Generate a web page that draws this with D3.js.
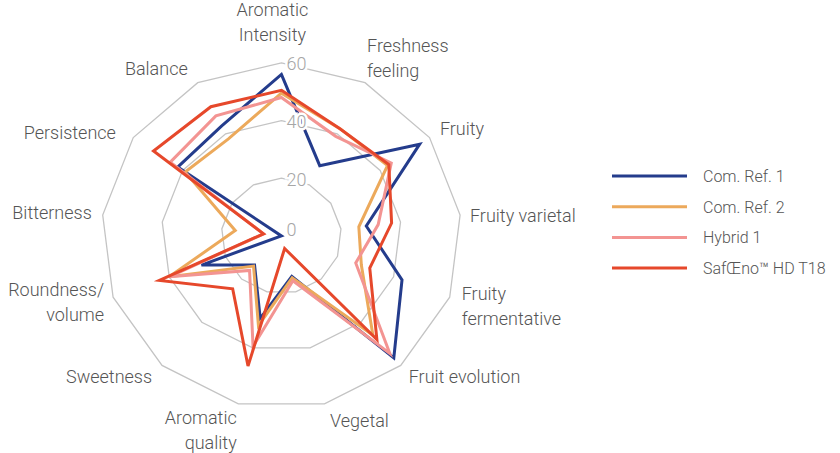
<!DOCTYPE html>
<html>
<head>
<meta charset="utf-8">
<script src="https://cdnjs.cloudflare.com/ajax/libs/d3/7.8.5/d3.min.js"></script>
<style>
  body { margin: 0; background: #fff; }
  svg { display: block; }
  .catLabel { font-family: Roboto, sans-serif; font-weight: 300; font-size: 18px; fill: #555; }
  .tickLabel { font-family: Roboto, sans-serif; font-weight: 300; font-size: 18px; fill: #a6a6a6;
               stroke: #fff; stroke-width: 5px; paint-order: stroke; }
  .legendLabel { font-family: Roboto, sans-serif; font-weight: 300; font-size: 16px; fill: #555; }
  .grid { fill: none; stroke: #c4c4c4; stroke-width: 1.3; }
  .series { fill: none; stroke-width: 3; stroke-linejoin: miter; }
</style>
</head>
<body>
<div id="chart"></div>
<script>
// Data
const categories = [
  "Aromatic|Intensity", "Freshness|feeling", "Fruity", "Fruity varietal",
  "Fruity|fermentative", "Fruit evolution", "Vegetal", "Aromatic|quality",
  "Sweetness", "Roundness/|volume", "Bitterness", "Persistence", "Balance"
];
const seriesNames = ["Com. Ref. 1", "Com. Ref. 2", "Hybrid 1", "SafŒno™ HD T18"];
const comRef1 = [56, 27.5, 56, 28.5, 43, 56.5, 14.5, 29.5, 13.5, 28.5, 0, 42, 43];
const comRef2 = [49.5, 42, 43, 26, 28.5, 46, 15, 32, 14, 40, 15.5, 39, 38];
const hybrid1 = [48, 39, 44.5, 32.5, 26.5, 54.5, 16, 39.5, 16, 40, 6, 45, 47];
const safoeno = [50.5, 42, 43.5, 37, 31.5, 48, 4.5, 46.5, 24.5, 43.5, 6, 51.8, 50.6];
const seriesColors = ["#243c8c", "#eca95b", "#f39492", "#e6482b"];
const gridTicks = [20, 40, 60];
const tickLabels = ["0", "20", "40", "60"];

// Layout
let width = 840, height = 453;
let cx = 281.4, cy = 235.9;
let rx = 180, ry = 173;      // plot is slightly wider than tall
let labelPad = 15;
let lineHeight = 25;
// small hand nudges for the category labels [dx, dy]
let labelNudge = [[0, 0], [-5, 0], [-2, 0], [-5, 3], [-2, 0], [-2, 0], [2, 3],
                  [2, 0], [0, 0], [5, -4], [4, 0], [-5, 4], [-3, 0]];

let svg = d3.select('#chart').append('svg')
  .attr('width', width)
  .attr('height', height);

let rScale = d3.scaleLinear().domain([0, 60]).range([0, 1]);
let aScale = d3.scaleLinear().domain([0, categories.length]).range([0, 2 * Math.PI]);

function px(v, i) { return cx + rx * rScale(v) * Math.sin(aScale(i)); }
function py(v, i) { return cy - ry * rScale(v) * Math.cos(aScale(i)); }

let closedLine = d3.line()
  .x(d => d.x)
  .y(d => d.y)
  .curve(d3.curveLinearClosed);

// grid polygons
let gridGroup = svg.append('g');
gridTicks.forEach(function (t) {
  let pts = categories.map((c, i) => ({ x: px(t, i), y: py(t, i) }));
  gridGroup.append('path')
    .attr('class', 'grid')
    .attr('d', closedLine(pts));
});

// series
let allSeries = [comRef1, comRef2, hybrid1, safoeno];
let seriesGroup = svg.append('g');
allSeries.forEach(function (vals, s) {
  let pts = vals.map((v, i) => ({ x: px(v, i), y: py(v, i) }));
  seriesGroup.append('path')
    .attr('class', 'series')
    .attr('stroke', seriesColors[s])
    .attr('d', closedLine(pts));
});

// tick labels on the vertical axis
let tickVals = [0].concat(gridTicks);
svg.append('g').selectAll('text')
  .data(tickVals)
  .enter().append('text')
  .attr('class', 'tickLabel')
  .attr('x', cx + 5)
  .attr('y', d => py(d, 0) + (d === 0 ? -6 : 1))
  .attr('dominant-baseline', 'central')
  .text((d, i) => tickLabels[i]);

// category labels
let labelGroup = svg.append('g');
categories.forEach(function (c, i) {
  let a = aScale(i);
  let s = Math.sin(a), co = Math.cos(a);
  let ax = cx + (rx + labelPad) * s + labelNudge[i][0];
  let ay = cy - (ry + labelPad) * co + labelNudge[i][1];
  let lines = c.split('|');
  let anchor = Math.abs(s) < 0.1 ? 'middle' : (s > 0 ? 'start' : 'end');
  let blockH = lines.length * lineHeight;
  let centerY;
  if (Math.abs(s) < 0.1 && co > 0) {
    centerY = ay - blockH / 2;
    ax -= 9;
  } else if (lines.length > 1) {
    centerY = ay - co * 12;
  } else {
    centerY = ay;
  }
  let firstBase = centerY - blockH / 2 + lineHeight / 2 + 6;
  let txt = labelGroup.append('text')
    .attr('class', 'catLabel')
    .attr('text-anchor', anchor);
  lines.forEach(function (l, k) {
    txt.append('tspan')
      .attr('x', ax)
      .attr('y', firstBase + k * lineHeight)
      .text(l);
  });
});

// legend
let legend = svg.append('g').attr('transform', 'translate(612, 176)');
seriesNames.forEach(function (n, s) {
  let g = legend.append('g').attr('transform', `translate(0, ${s * 30.7})`);
  g.append('line')
    .attr('x1', 0).attr('x2', 75)
    .attr('y1', 0).attr('y2', 0)
    .attr('stroke', seriesColors[s])
    .attr('stroke-width', 3);
  g.append('text')
    .attr('class', 'legendLabel')
    .attr('x', 91)
    .attr('y', 6)
    .text(n);
});
</script>
</body>
</html>
